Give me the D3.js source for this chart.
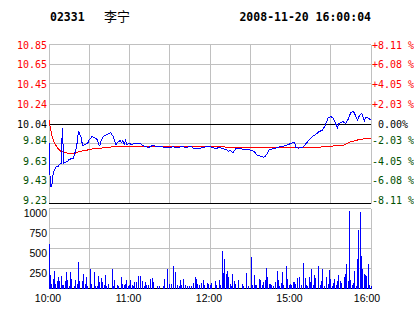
<!DOCTYPE html>
<html>
<head>
<meta charset="utf-8">
<script src="https://cdn.jsdelivr.net/npm/d3@7"></script>
<style>
  body { margin: 0; background: #fff; }
  svg { display: block; }
</style>
</head>
<body>
<svg id="chart" width="414" height="314"></svg>
<script>
const stockCode = "02331";
const stockName = "李宁";
const stamp = "2008-11-20 16:00:04";
const prevClose = 10.04;

const priceTicks = [10.85, 10.65, 10.45, 10.24, 10.04, 9.84, 9.63, 9.43, 9.23];
const pctLabels = ["+8.11 %", "+6.08 %", "+4.05 %", "+2.03 %", " 0.00%", "-2.03 %", "-4.05 %", "-6.08 %", "-8.11 %"];
const volTicks = [1000, 750, 500, 250];
const timeTicks = [0, 60, 120, 180, 240];   // trading minutes from 10:00, lunch removed
const timeLabels = ["10:00", "11:00", "12:00", "15:00", "16:00"];

// price line: minute, price
const priceMin = [0, 1, 2, 3, 4, 5, 7, 8, 9, 10, 11, 12, 14, 15, 18, 19, 20, 21, 22, 23, 24, 25, 27, 29, 30,
  32, 34, 36, 37, 38, 39, 41, 43, 46, 48, 49, 50, 51, 53, 54, 55, 56, 57, 58, 60, 61, 64, 68, 70, 74, 77, 82,
  89, 91, 92, 94, 100, 101, 106, 108, 113, 118, 120, 122, 124, 127, 129, 132, 134, 135, 137, 138, 139, 142,
  144, 148, 150, 153, 155, 158, 160, 161, 163, 164, 166, 169, 171, 174, 176, 179, 181, 183, 184, 186, 189,
  191, 194, 196, 199, 201, 204, 206, 208, 210, 212, 213, 215, 216, 219, 221, 223, 225, 227, 228, 230, 231,
  233, 235, 236, 238, 240];
const priceVal = [9.85, 9.41, 9.40, 9.52, 9.57, 9.60, 9.61, 9.63, 9.64, 10.00, 9.64, 9.65, 9.66, 9.68, 9.69,
  9.73, 9.78, 9.85, 9.97, 9.93, 9.90, 9.82, 9.83, 9.85, 9.88, 9.91, 9.90, 9.88, 9.83, 9.82, 9.88, 9.92, 9.93,
  9.95, 9.91, 9.86, 9.83, 9.85, 9.87, 9.85, 9.87, 9.83, 9.87, 9.83, 9.845, 9.83, 9.84, 9.84, 9.82, 9.80, 9.82,
  9.81, 9.80, 9.80, 9.81, 9.80, 9.81, 9.80, 9.81, 9.79, 9.795, 9.81, 9.81, 9.80, 9.79, 9.80, 9.79, 9.78, 9.76,
  9.775, 9.745, 9.765, 9.785, 9.795, 9.785, 9.785, 9.775, 9.76, 9.725, 9.71, 9.70, 9.71, 9.745, 9.775, 9.785,
  9.795, 9.805, 9.81, 9.82, 9.835, 9.845, 9.855, 9.80, 9.795, 9.80, 9.83, 9.88, 9.91, 9.935, 9.96, 9.98,
  10.03, 10.10, 10.115, 10.10, 10.065, 10.00, 10.045, 10.065, 10.045, 10.09, 10.16, 10.165, 10.14, 10.08,
  10.115, 10.15, 10.07, 10.105, 10.10, 10.08];

// average price line: minute, price
const avgMin = [0, 1, 2, 4, 7, 9, 13, 19, 22, 27, 32, 39, 49, 61, 120, 147, 197, 207, 220, 224, 232, 240];
const avgVal = [10.08, 10.00, 9.93, 9.845, 9.785, 9.76, 9.745, 9.735, 9.76, 9.77, 9.785, 9.795, 9.81, 9.815,
  9.812, 9.797, 9.80, 9.81, 9.826, 9.854, 9.885, 9.895];

// volume bars: minute, volume
const volMin = [0, 1, 2, 3, 4, 5, 6, 7, 8, 9, 10, 11, 12, 13, 14, 15, 16, 17, 19, 20, 21, 22, 23, 25, 26, 27,
  28, 29, 31, 32, 34, 35, 36, 37, 38, 39, 40, 41, 42, 43, 44, 47, 48, 49, 51, 52, 54, 55, 56, 57, 58, 59, 60,
  61, 62, 63, 64, 65, 67, 68, 70, 71, 72, 73, 74, 76, 77, 78, 81, 82, 85, 86, 88, 90, 91, 93, 94, 96, 97, 98,
  99, 100, 102, 103, 105, 106, 108, 109, 110, 111, 112, 114, 115, 116, 118, 119, 120,
  121, 124, 125, 127, 128, 129, 130, 131, 132, 133, 134, 135, 136, 137, 138, 139, 141, 144, 145, 147, 149,
  151, 152, 153, 154, 155, 157, 158, 159, 160, 161, 162, 163, 164, 165, 166, 167, 169, 170, 171, 172, 173,
  174, 175, 177, 178, 179, 180, 181, 182, 183, 184, 185, 187, 188, 190, 191, 192, 193, 194, 195, 196, 197,
  198, 199, 201, 202, 203, 204, 205, 207, 208, 209, 210, 211, 212, 213, 214, 215, 216, 217, 218, 220, 221,
  222, 223, 224, 225, 226, 227, 228, 229, 230, 231, 232, 233, 234, 235, 236, 237, 238, 239, 240];
const volVal = [562, 175, 58, 125, 217, 60, 92, 150, 100, 162, 50, 40, 100, 212, 112, 35, 212, 125, 35, 112,
  58, 337, 100, 100, 187, 62, 141, 30, 250, 62, 212, 30, 35, 162, 83, 133, 83, 50, 175, 35, 62, 250, 30, 112,
  45, 33, 150, 62, 45, 62, 112, 37, 50, 112, 45, 33, 83, 83, 162, 162, 100, 37, 83, 45, 45, 125, 133, 83, 33,
  33, 37, 125, 250, 62, 62, 287, 212, 45, 33, 112, 50, 125, 50, 33, 37, 37, 75, 150, 125, 62, 50, 75, 108, 50,
  75, 58, 50,
  66, 96, 45, 108, 50, 470, 191, 370, 179, 220, 150, 54, 33, 183, 96, 54, 108, 58, 37, 196, 33,
  396, 45, 171, 41, 45, 121, 104, 45, 79, 108, 258, 146, 58, 58, 45, 29, 79, 221, 108, 29, 71,
  208, 45, 283, 121, 41, 58, 45, 79, 79, 62, 137, 150, 45, 316, 133, 45, 33, 146, 87, 246, 45,
  171, 129, 283, 45, 96, 246, 33, 146, 58, 233, 121, 33, 66, 121, 45, 96, 171, 92, 75, 146, 183,
  304, 96, 970, 108, 45, 75, 221, 33, 370, 733, 954, 408, 246, 183, 171, 158, 308, 45, 33];

const red = "#ff0000", green = "#005000", grid = "#c0c0c0";
const mono = "'DejaVu Sans Mono', monospace";
const sans = "'Liberation Sans', Arial, sans-serif";

const svg = d3.select("#chart");

const x = d3.scaleLinear().domain([0, 240]).range([49, 371]);
const y = d3.scaleLinear().domain([9.23, 10.85]).range([203.5, 44.5]);
const yv = d3.scaleLinear().domain([0, 1000]).range([288.5, 208.5]);
const px = v => Math.round(v - 0.5) + 0.5;

// header
svg.append("text").attr("x", 50).attr("y", 21)
  .style("font", `bold 11.5px ${mono}`).text(stockCode);
svg.append("text").attr("x", 104).attr("y", 21)
  .style("font", "13px 'Noto Sans CJK SC', sans-serif").text(stockName);
svg.append("text").attr("x", 371).attr("y", 21).attr("text-anchor", "end")
  .style("font", `bold 11.5px ${mono}`).text(stamp);

// vertical grid, both panels
const vTicks = d3.range(0, 241, 30);
svg.append("g").selectAll("line").data(vTicks).join("line")
  .attr("x1", d => px(x(d))).attr("x2", d => px(x(d)))
  .attr("y1", y(10.85)).attr("y2", y(9.23))
  .attr("stroke", grid).attr("shape-rendering", "crispEdges");
svg.append("g").selectAll("line").data(vTicks).join("line")
  .attr("x1", d => px(x(d))).attr("x2", d => px(x(d)))
  .attr("y1", yv(1000)).attr("y2", yv(0))
  .attr("stroke", grid).attr("shape-rendering", "crispEdges");

// horizontal price grid
svg.append("g").selectAll("line").data(priceTicks).join("line")
  .attr("x1", x(0)).attr("x2", x(240))
  .attr("y1", d => px(y(d))).attr("y2", d => px(y(d)))
  .attr("stroke", d => (d === prevClose || d === 9.23) ? "#000" : grid)
  .attr("shape-rendering", "crispEdges");

// horizontal volume grid
svg.append("g").selectAll("line").data([0, 250, 500, 750, 1000]).join("line")
  .attr("x1", x(0)).attr("x2", x(240))
  .attr("y1", d => px(yv(d))).attr("y2", d => px(yv(d)))
  .attr("stroke", d => d === 0 ? "#000" : grid)
  .attr("shape-rendering", "crispEdges");

const colorOf = d => d > prevClose ? red : (d < prevClose ? green : "#000");

// price labels, left
svg.append("g").selectAll("text").data(priceTicks).join("text")
  .attr("x", 47).attr("y", d => y(d) + (d >= prevClose ? 4 : 0.5))
  .attr("text-anchor", "end")
  .style("font", `10px ${mono}`).attr("fill", colorOf)
  .text(d => d.toFixed(2));

// percent labels, right
svg.append("g").selectAll("text").data(priceTicks).join("text")
  .attr("x", 372).attr("y", d => y(d) + (d >= prevClose ? 4 : 0.5))
  .style("font", `10px ${mono}`).attr("fill", colorOf)
  .attr("xml:space", "preserve")
  .text((d, i) => pctLabels[i]);

// volume labels
svg.append("g").selectAll("text").data(volTicks).join("text")
  .attr("x", 47).attr("y", d => yv(d) + 8)
  .attr("text-anchor", "end")
  .style("font", `10.5px ${sans}`).attr("fill", "#000")
  .text(d => d);

// time labels
svg.append("g").selectAll("text").data(timeTicks).join("text")
  .attr("x", (d, i) => i === timeTicks.length - 1 ? x(d) - 4 : x(d) - 1)
  .attr("y", 302)
  .attr("text-anchor", "middle")
  .style("font", `10.5px ${sans}`).attr("fill", "#000")
  .text((d, i) => timeLabels[i]);

// volume bars
svg.append("g").selectAll("rect").data(volMin).join("rect")
  .attr("x", d => Math.floor(x(d)))
  .attr("width", 1)
  .attr("y", (d, i) => yv(volVal[i]))
  .attr("height", (d, i) => yv(0) - yv(volVal[i]))
  .attr("fill", "#0000ff")
  .attr("shape-rendering", "crispEdges");

// average line
const line = d3.line().x(d => x(d[0])).y(d => y(d[1]));
svg.append("path")
  .attr("d", line(avgMin.map((m, i) => [m, avgVal[i]])))
  .attr("fill", "none").attr("stroke", red).attr("stroke-width", 1)
  .attr("shape-rendering", "crispEdges");

// price line
svg.append("path")
  .attr("d", line(priceMin.map((m, i) => [m, priceVal[i]])))
  .attr("fill", "none").attr("stroke", "#0000ff").attr("stroke-width", 1)
  .attr("shape-rendering", "crispEdges");
</script>
</body>
</html>
